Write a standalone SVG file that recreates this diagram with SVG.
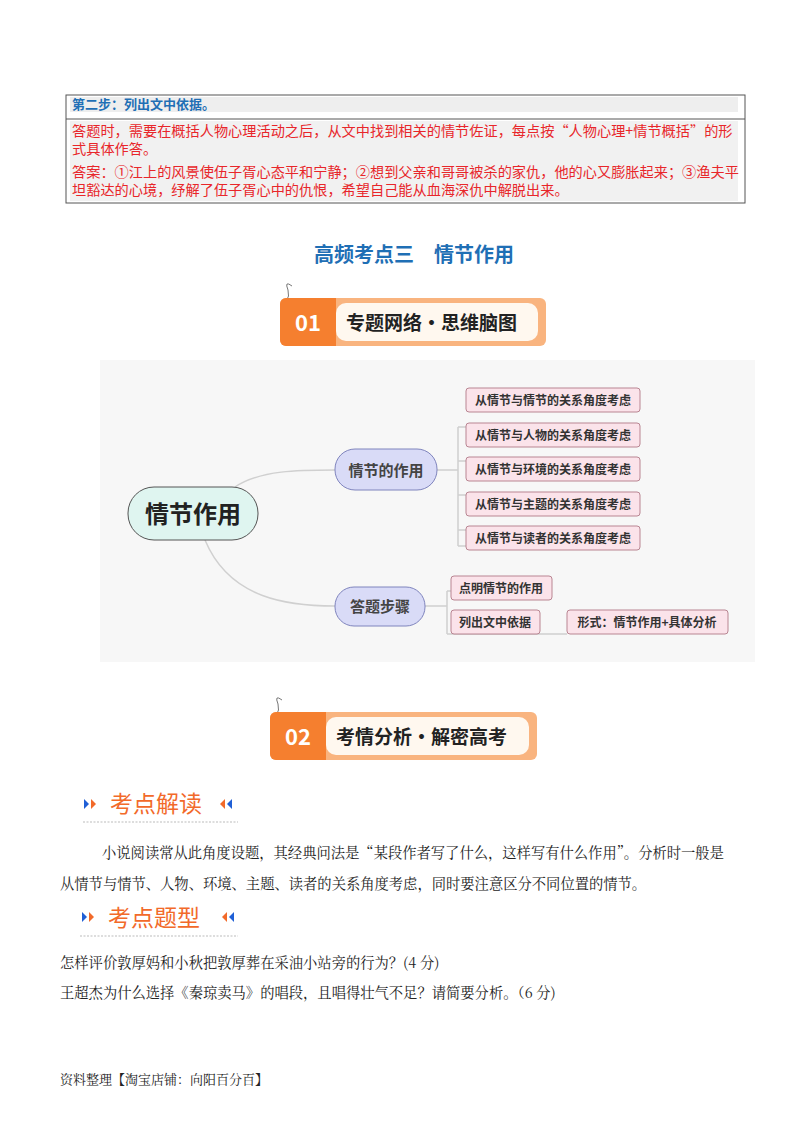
<svg xmlns="http://www.w3.org/2000/svg" width="800" height="1132" viewBox="0 0 800 1132">
<style>
text{font-family:"Noto Sans CJK SC","Noto Sans",sans-serif}
.s{font-family:"Noto Serif CJK SC","Noto Sans CJK SC",serif}
.red{fill:#e8262a;font-size:14.2px}
.leaf{fill:#fbe3ea;stroke:#b98592;stroke-width:1}
.lt{font-size:12px;font-weight:bold;fill:#333}
.mid{fill:#d9dbf7;stroke:#7f84bd;stroke-width:1}
.con{fill:none;stroke:#d0d0d0;stroke-width:1.5}
.body{font-size:14.3px;fill:#222}
.sec{font-size:23px;fill:#f26a2a}
</style>
<rect width="800" height="1132" fill="#fff"/>
<g id="box">
<rect x="66" y="95" width="679" height="108" fill="#fff" stroke="#555" stroke-width="1"/>
<rect x="70" y="97" width="668" height="15" fill="#eeeeee"/>
<line x1="66" y1="119" x2="745" y2="119" stroke="#555"/>
<rect x="70" y="121" width="668" height="80" fill="#f1f1f1"/>
<text x="72" y="109" font-size="13" font-weight="bold" fill="#1f6fb5">第二步：列出文中依据。</text>
<text x="72" y="136" class="red">答题时，需要在概括人物心理活动之后，从文中找到相关的情节佐证，每点按“人物心理+情节概括”的形</text>
<text x="72" y="154" class="red">式具体作答。</text>
<text x="72" y="177" class="red">答案：①江上的风景使伍子胥心态平和宁静；②想到父亲和哥哥被杀的家仇，他的心又膨胀起来；③渔夫平</text>
<text x="72" y="195" class="red">坦豁达的心境，纾解了伍子胥心中的仇恨，希望自己能从血海深仇中解脱出来。</text>
</g>
<text x="414" y="262" text-anchor="middle" font-size="20" font-weight="bold" fill="#1f6fb5">高频考点三　情节作用</text>
<g id="banner1">
<path d="M292 286 q-8 -6 -4 4 q2 6 -2 12" fill="none" stroke="#777" stroke-width="1"/>
<rect x="280" y="298" width="266" height="48" rx="6" fill="#f9b47f"/>
<path d="M286 298 h50 v48 h-50 a6 6 0 0 1 -6 -6 v-36 a6 6 0 0 1 6 -6z" fill="#f57f2f"/>
<rect x="336" y="303" width="202" height="38" rx="10" fill="#fff8ef"/>
<text x="308" y="331" text-anchor="middle" font-size="22" font-weight="bold" fill="#fff">01</text>
<text x="346" y="330" font-size="19" font-weight="bold" fill="#222">专题网络•思维脑图</text>
</g>
<rect x="100" y="360" width="655" height="302" fill="#f7f7f7"/>
<g id="connectors">
<path class="con" d="M235 487 C260 470 300 470 335 470"/>
<path class="con" d="M205 540 C230 600 290 606 335 606"/>
<path class="con" d="M437 470 H458 M458 427 V546 M458 427 H466 M458 461 H466 M458 495 H466 M458 530 H466 M458 546 H466"/>
<path class="con" d="M425 606 H447 M447 591 V634 M447 591 H451 M447 634 H567"/>
</g>
<g id="root"><rect x="128" y="487" width="130" height="53" rx="26" fill="#dff5f0" stroke="#555"/><text x="193" y="523" text-anchor="middle" font-size="24" font-weight="bold" fill="#222">情节作用</text></g>
<g id="n1"><rect class="mid" x="335" y="449" width="102" height="41" rx="20"/><text x="386" y="476" text-anchor="middle" font-size="15" font-weight="bold" fill="#444">情节的作用</text></g>
<g id="n2"><rect class="mid" x="335" y="587" width="90" height="39" rx="19"/><text x="380" y="612" text-anchor="middle" font-size="15" font-weight="bold" fill="#444">答题步骤</text></g>
<g id="l1"><rect class="leaf" x="466" y="388" width="174" height="24" rx="3"/><text class="lt" x="553" y="405" text-anchor="middle">从情节与情节的关系角度考虑</text></g>
<g id="l2"><rect class="leaf" x="466" y="423" width="174" height="24" rx="3"/><text class="lt" x="553" y="440" text-anchor="middle">从情节与人物的关系角度考虑</text></g>
<g id="l3"><rect class="leaf" x="466" y="457" width="174" height="24" rx="3"/><text class="lt" x="553" y="474" text-anchor="middle">从情节与环境的关系角度考虑</text></g>
<g id="l4"><rect class="leaf" x="466" y="492" width="174" height="24" rx="3"/><text class="lt" x="553" y="509" text-anchor="middle">从情节与主题的关系角度考虑</text></g>
<g id="l5"><rect class="leaf" x="466" y="526" width="174" height="24" rx="3"/><text class="lt" x="553" y="543" text-anchor="middle">从情节与读者的关系角度考虑</text></g>
<g id="s1"><rect class="leaf" x="451" y="576" width="101" height="24" rx="3"/><text class="lt" x="501" y="593" text-anchor="middle">点明情节的作用</text></g>
<g id="s2"><rect class="leaf" x="451" y="610" width="89" height="24" rx="3"/><text class="lt" x="495" y="627" text-anchor="middle">列出文中依据</text></g>
<g id="s3"><rect class="leaf" x="567" y="610" width="161" height="24" rx="3"/><text class="lt" x="647" y="627" text-anchor="middle">形式：情节作用+具体分析</text></g>
<g id="banner2">
<path d="M282 700 q-8 -6 -4 4 q2 6 -2 12" fill="none" stroke="#777" stroke-width="1"/>
<rect x="270" y="712" width="267" height="48" rx="6" fill="#f9b47f"/>
<path d="M276 712 h50 v48 h-50 a6 6 0 0 1 -6 -6 v-36 a6 6 0 0 1 6 -6z" fill="#f57f2f"/>
<rect x="326" y="717" width="203" height="38" rx="10" fill="#fff8ef"/>
<text x="298" y="745" text-anchor="middle" font-size="22" font-weight="bold" fill="#fff">02</text>
<text x="336" y="744" font-size="19" font-weight="bold" fill="#222">考情分析•解密高考</text>
</g>
<g id="sec1">
<path d="M84 799 l5 5 l-5 5z" fill="#1f5fd6"/><path d="M91 799 l5 5 l-5 5z" fill="#f26a2a"/>
<text class="sec" x="110" y="812">考点解读</text>
<path d="M225 799 l-5 5 l5 5z" fill="#f26a2a"/><path d="M232 799 l-5 5 l5 5z" fill="#1f5fd6"/>
<line x1="83" y1="822" x2="238" y2="822" stroke="#bbb" stroke-dasharray="2,1.5"/>
</g>
<text class="body s" x="102" y="858">小说阅读常从此角度设题，其经典问法是“某段作者写了什么，这样写有什么作用”。分析时一般是</text>
<text class="body s" x="60" y="889">从情节与情节、人物、环境、主题、读者的关系角度考虑，同时要注意区分不同位置的情节。</text>
<g id="sec2">
<path d="M82 912 l5 5 l-5 5z" fill="#1f5fd6"/><path d="M89 912 l5 5 l-5 5z" fill="#f26a2a"/>
<text class="sec" x="108" y="926">考点题型</text>
<path d="M227 912 l-5 5 l5 5z" fill="#f26a2a"/><path d="M234 912 l-5 5 l5 5z" fill="#1f5fd6"/>
<line x1="80" y1="936" x2="238" y2="936" stroke="#bbb" stroke-dasharray="2,1.5"/>
</g>
<text class="body s" x="60" y="968">怎样评价敦厚妈和小秋把敦厚葬在采油小站旁的行为？(4 分)</text>
<text class="body s" x="60" y="998">王超杰为什么选择《秦琼卖马》的唱段，且唱得壮气不足？请简要分析。（6 分)</text>
<text class="s" x="60" y="1084" font-size="13" fill="#222">资料整理【淘宝店铺：向阳百分百】</text>
</svg>
